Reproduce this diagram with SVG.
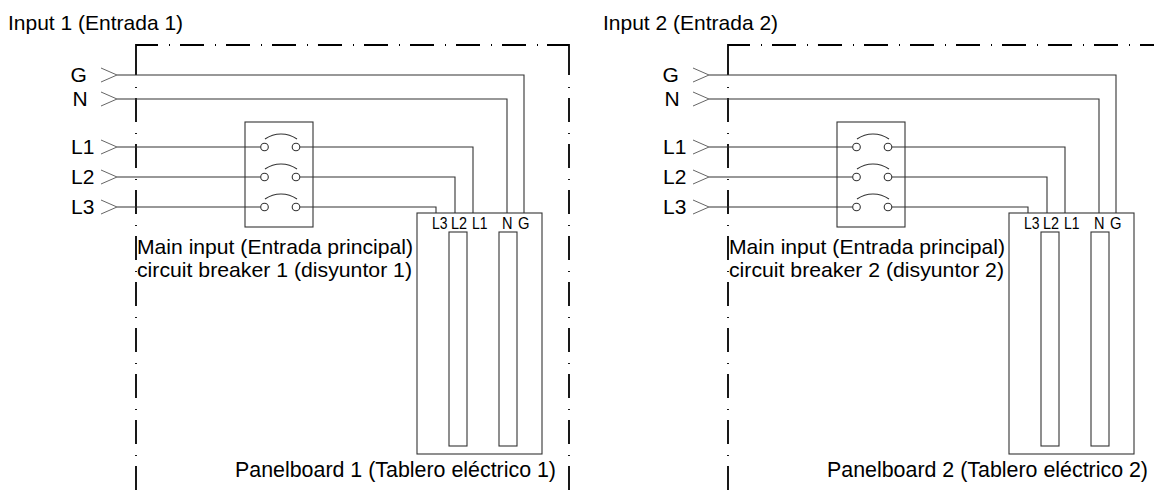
<svg xmlns="http://www.w3.org/2000/svg" width="1154" height="493" viewBox="0 0 1154 493">
<style>
text{font-family:"Liberation Sans",Arial,sans-serif;fill:#000}
.lbl{font-size:21px}
.big{font-size:21.4px}
.term{font-size:16px}
.wire{stroke:#333;stroke-width:1.1;fill:none}
.chev{stroke:#666;stroke-width:1;fill:none}
.bar{stroke:#333;stroke-width:1.1;fill:none}
.sol{stroke:#000;stroke-width:1.8;fill:none}
.dd{stroke:#000;stroke-width:1.8;fill:none;stroke-dasharray:1 10 24 11}
.ct{stroke:#333;stroke-width:1.1;fill:#fff}
</style>
<rect width="1154" height="493" fill="#fff"/>

<!-- Section 1 -->
<g id="enclosure1">
<path class="sol" d="M136,75 V45 H158"/>
<path class="dd" d="M169,45 H538"/>
<path class="sol" d="M547,45 H569 V75"/>
<path class="dd" d="M136,87 V493"/>
<path class="dd" d="M569,87 V493"/>
</g>
<g id="connectors1">
<path class="wire" d="M117,75 H524 V213"/>
<path class="wire" d="M117,99 H507 V213"/>
<path class="wire" d="M117,147 H260.7 M299.8,147 H473 V213"/>
<path class="wire" d="M117,177 H260.7 M299.8,177 H455 V213"/>
<path class="wire" d="M117,207 H260.7 M299.8,207 H436 V213"/>
</g>
<g id="input1">
<text class="lbl" x="8" y="30">Input 1 (Entrada 1)</text>
<text class="lbl" x="70.5" y="82">G</text>
<text class="lbl" x="72.5" y="106">N</text>
<text class="lbl" x="71" y="154">L1</text>
<text class="lbl" x="71" y="184">L2</text>
<text class="lbl" x="71" y="214">L3</text>
<path class="chev" d="M101,68 L117,75 L101,82 M101,92 L117,99 L101,106 M101,140 L117,147 L101,154 M101,170 L117,177 L101,184 M101,200 L117,207 L101,214"/>
</g>
<g id="breaker1">
<rect class="bar" x="245" y="122" width="68" height="105"/>
<circle class="ct" cx="264.5" cy="147" r="3.8"/><circle class="ct" cx="296" cy="147" r="3.8"/>
<circle class="ct" cx="264.5" cy="177" r="3.8"/><circle class="ct" cx="296" cy="177" r="3.8"/>
<circle class="ct" cx="264.5" cy="207" r="3.8"/><circle class="ct" cx="296" cy="207" r="3.8"/>
<path class="wire" d="M265,139 A28,28 0 0 1 297,139 M265,169 A28,28 0 0 1 297,169 M265,199 A28,28 0 0 1 297,199"/>
<text class="lbl" x="137" y="254" textLength="276" lengthAdjust="spacingAndGlyphs">Main input (Entrada principal)</text>
<text class="lbl" x="137" y="277" textLength="275" lengthAdjust="spacingAndGlyphs">circuit breaker 1 (disyuntor 1)</text>
</g>
<g id="panel1">
<rect class="bar" x="417" y="213" width="125" height="241"/>
<rect class="bar" x="449" y="232" width="18" height="214"/>
<rect class="bar" x="499" y="232" width="18" height="214"/>
<text class="term" x="432" y="229" textLength="15.5" lengthAdjust="spacingAndGlyphs">L3</text>
<text class="term" x="451" y="229" textLength="16" lengthAdjust="spacingAndGlyphs">L2</text>
<text class="term" x="472" y="229" textLength="15.5" lengthAdjust="spacingAndGlyphs">L1</text>
<text class="term" x="502" y="229" textLength="10.5" lengthAdjust="spacingAndGlyphs">N</text>
<text class="term" x="518" y="229" textLength="11.5" lengthAdjust="spacingAndGlyphs">G</text>
<text class="big" x="235" y="477" textLength="321" lengthAdjust="spacingAndGlyphs">Panelboard 1 (Tablero eléctrico 1)</text>
</g>

<!-- Section 2 -->
<g id="enclosure2">
<path class="sol" d="M728,75 V45 H750"/>
<path class="dd" d="M761,45 H1154"/>
<path class="dd" d="M728,87 V493"/>
</g>
<g id="connectors2">
<path class="wire" d="M709,75 H1116 V213"/>
<path class="wire" d="M709,99 H1099 V213"/>
<path class="wire" d="M709,147 H852.7 M891.8,147 H1065 V213"/>
<path class="wire" d="M709,177 H852.7 M891.8,177 H1047 V213"/>
<path class="wire" d="M709,207 H852.7 M891.8,207 H1028 V213"/>
</g>
<g id="input2">
<text class="lbl" x="603" y="30">Input 2 (Entrada 2)</text>
<text class="lbl" x="662.5" y="82">G</text>
<text class="lbl" x="664.5" y="106">N</text>
<text class="lbl" x="663" y="154">L1</text>
<text class="lbl" x="663" y="184">L2</text>
<text class="lbl" x="663" y="214">L3</text>
<path class="chev" d="M693,68 L709,75 L693,82 M693,92 L709,99 L693,106 M693,140 L709,147 L693,154 M693,170 L709,177 L693,184 M693,200 L709,207 L693,214"/>
</g>
<g id="breaker2">
<rect class="bar" x="837" y="122" width="68" height="105"/>
<circle class="ct" cx="856.5" cy="147" r="3.8"/><circle class="ct" cx="888" cy="147" r="3.8"/>
<circle class="ct" cx="856.5" cy="177" r="3.8"/><circle class="ct" cx="888" cy="177" r="3.8"/>
<circle class="ct" cx="856.5" cy="207" r="3.8"/><circle class="ct" cx="888" cy="207" r="3.8"/>
<path class="wire" d="M857,139 A28,28 0 0 1 889,139 M857,169 A28,28 0 0 1 889,169 M857,199 A28,28 0 0 1 889,199"/>
<text class="lbl" x="729" y="254" textLength="276" lengthAdjust="spacingAndGlyphs">Main input (Entrada principal)</text>
<text class="lbl" x="729" y="277" textLength="275" lengthAdjust="spacingAndGlyphs">circuit breaker 2 (disyuntor 2)</text>
</g>
<g id="panel2">
<rect class="bar" x="1009" y="213" width="125" height="241"/>
<rect class="bar" x="1041" y="232" width="18" height="214"/>
<rect class="bar" x="1091" y="232" width="18" height="214"/>
<text class="term" x="1024" y="229" textLength="15.5" lengthAdjust="spacingAndGlyphs">L3</text>
<text class="term" x="1043" y="229" textLength="16" lengthAdjust="spacingAndGlyphs">L2</text>
<text class="term" x="1064" y="229" textLength="15.5" lengthAdjust="spacingAndGlyphs">L1</text>
<text class="term" x="1094" y="229" textLength="10.5" lengthAdjust="spacingAndGlyphs">N</text>
<text class="term" x="1110" y="229" textLength="11.5" lengthAdjust="spacingAndGlyphs">G</text>
<text class="big" x="827" y="477" textLength="321" lengthAdjust="spacingAndGlyphs">Panelboard 2 (Tablero eléctrico 2)</text>
</g>
</svg>
